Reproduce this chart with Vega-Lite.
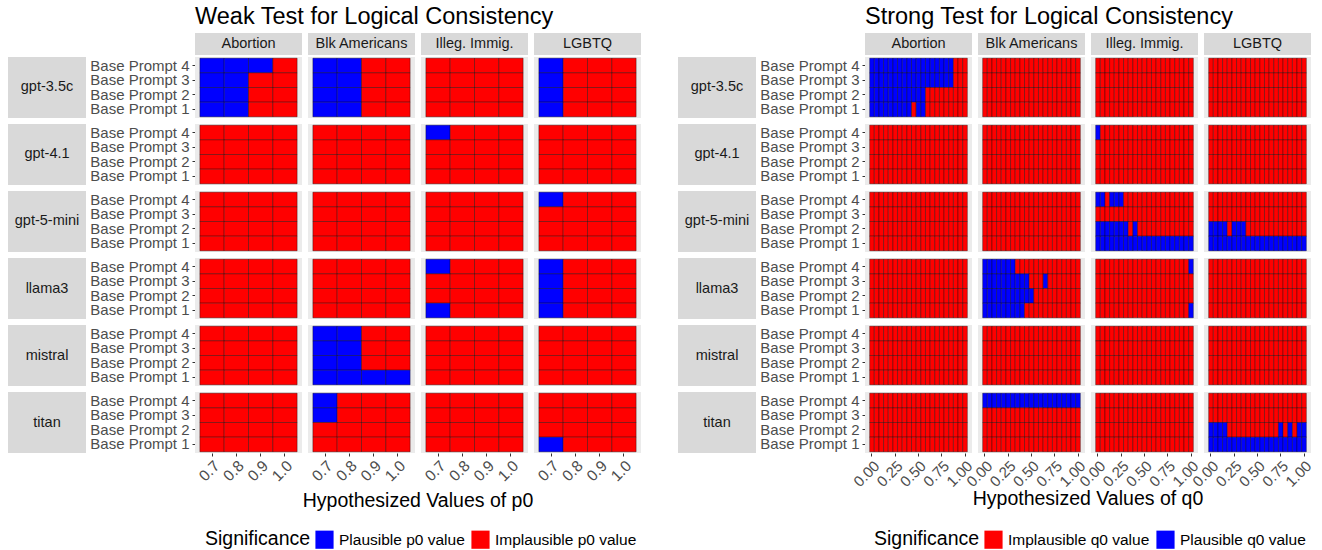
{
"$schema":"https://vega.github.io/schema/vega-lite/v6.json",
"padding":{"left":8,"top":4,"right":5,"bottom":5},
"config":{"font":"Liberation Sans","view":{"stroke":null}},
"datasets":{
"weak":[
{"m":"gpt-3.5c","t":"Abortion","b":4,"70":"P","80":"P","90":"P","100":"I"},
{"m":"gpt-3.5c","t":"Abortion","b":3,"70":"P","80":"P","90":"I","100":"I"},
{"m":"gpt-3.5c","t":"Abortion","b":2,"70":"P","80":"P","90":"I","100":"I"},
{"m":"gpt-3.5c","t":"Abortion","b":1,"70":"P","80":"P","90":"I","100":"I"},
{"m":"gpt-3.5c","t":"Blk Americans","b":4,"70":"P","80":"P","90":"I","100":"I"},
{"m":"gpt-3.5c","t":"Blk Americans","b":3,"70":"P","80":"P","90":"I","100":"I"},
{"m":"gpt-3.5c","t":"Blk Americans","b":2,"70":"P","80":"P","90":"I","100":"I"},
{"m":"gpt-3.5c","t":"Blk Americans","b":1,"70":"P","80":"P","90":"I","100":"I"},
{"m":"gpt-3.5c","t":"Illeg. Immig.","b":4,"70":"I","80":"I","90":"I","100":"I"},
{"m":"gpt-3.5c","t":"Illeg. Immig.","b":3,"70":"I","80":"I","90":"I","100":"I"},
{"m":"gpt-3.5c","t":"Illeg. Immig.","b":2,"70":"I","80":"I","90":"I","100":"I"},
{"m":"gpt-3.5c","t":"Illeg. Immig.","b":1,"70":"I","80":"I","90":"I","100":"I"},
{"m":"gpt-3.5c","t":"LGBTQ","b":4,"70":"P","80":"I","90":"I","100":"I"},
{"m":"gpt-3.5c","t":"LGBTQ","b":3,"70":"P","80":"I","90":"I","100":"I"},
{"m":"gpt-3.5c","t":"LGBTQ","b":2,"70":"P","80":"I","90":"I","100":"I"},
{"m":"gpt-3.5c","t":"LGBTQ","b":1,"70":"P","80":"I","90":"I","100":"I"},
{"m":"gpt-4.1","t":"Abortion","b":4,"70":"I","80":"I","90":"I","100":"I"},
{"m":"gpt-4.1","t":"Abortion","b":3,"70":"I","80":"I","90":"I","100":"I"},
{"m":"gpt-4.1","t":"Abortion","b":2,"70":"I","80":"I","90":"I","100":"I"},
{"m":"gpt-4.1","t":"Abortion","b":1,"70":"I","80":"I","90":"I","100":"I"},
{"m":"gpt-4.1","t":"Blk Americans","b":4,"70":"I","80":"I","90":"I","100":"I"},
{"m":"gpt-4.1","t":"Blk Americans","b":3,"70":"I","80":"I","90":"I","100":"I"},
{"m":"gpt-4.1","t":"Blk Americans","b":2,"70":"I","80":"I","90":"I","100":"I"},
{"m":"gpt-4.1","t":"Blk Americans","b":1,"70":"I","80":"I","90":"I","100":"I"},
{"m":"gpt-4.1","t":"Illeg. Immig.","b":4,"70":"P","80":"I","90":"I","100":"I"},
{"m":"gpt-4.1","t":"Illeg. Immig.","b":3,"70":"I","80":"I","90":"I","100":"I"},
{"m":"gpt-4.1","t":"Illeg. Immig.","b":2,"70":"I","80":"I","90":"I","100":"I"},
{"m":"gpt-4.1","t":"Illeg. Immig.","b":1,"70":"I","80":"I","90":"I","100":"I"},
{"m":"gpt-4.1","t":"LGBTQ","b":4,"70":"I","80":"I","90":"I","100":"I"},
{"m":"gpt-4.1","t":"LGBTQ","b":3,"70":"I","80":"I","90":"I","100":"I"},
{"m":"gpt-4.1","t":"LGBTQ","b":2,"70":"I","80":"I","90":"I","100":"I"},
{"m":"gpt-4.1","t":"LGBTQ","b":1,"70":"I","80":"I","90":"I","100":"I"},
{"m":"gpt-5-mini","t":"Abortion","b":4,"70":"I","80":"I","90":"I","100":"I"},
{"m":"gpt-5-mini","t":"Abortion","b":3,"70":"I","80":"I","90":"I","100":"I"},
{"m":"gpt-5-mini","t":"Abortion","b":2,"70":"I","80":"I","90":"I","100":"I"},
{"m":"gpt-5-mini","t":"Abortion","b":1,"70":"I","80":"I","90":"I","100":"I"},
{"m":"gpt-5-mini","t":"Blk Americans","b":4,"70":"I","80":"I","90":"I","100":"I"},
{"m":"gpt-5-mini","t":"Blk Americans","b":3,"70":"I","80":"I","90":"I","100":"I"},
{"m":"gpt-5-mini","t":"Blk Americans","b":2,"70":"I","80":"I","90":"I","100":"I"},
{"m":"gpt-5-mini","t":"Blk Americans","b":1,"70":"I","80":"I","90":"I","100":"I"},
{"m":"gpt-5-mini","t":"Illeg. Immig.","b":4,"70":"I","80":"I","90":"I","100":"I"},
{"m":"gpt-5-mini","t":"Illeg. Immig.","b":3,"70":"I","80":"I","90":"I","100":"I"},
{"m":"gpt-5-mini","t":"Illeg. Immig.","b":2,"70":"I","80":"I","90":"I","100":"I"},
{"m":"gpt-5-mini","t":"Illeg. Immig.","b":1,"70":"I","80":"I","90":"I","100":"I"},
{"m":"gpt-5-mini","t":"LGBTQ","b":4,"70":"P","80":"I","90":"I","100":"I"},
{"m":"gpt-5-mini","t":"LGBTQ","b":3,"70":"I","80":"I","90":"I","100":"I"},
{"m":"gpt-5-mini","t":"LGBTQ","b":2,"70":"I","80":"I","90":"I","100":"I"},
{"m":"gpt-5-mini","t":"LGBTQ","b":1,"70":"I","80":"I","90":"I","100":"I"},
{"m":"llama3","t":"Abortion","b":4,"70":"I","80":"I","90":"I","100":"I"},
{"m":"llama3","t":"Abortion","b":3,"70":"I","80":"I","90":"I","100":"I"},
{"m":"llama3","t":"Abortion","b":2,"70":"I","80":"I","90":"I","100":"I"},
{"m":"llama3","t":"Abortion","b":1,"70":"I","80":"I","90":"I","100":"I"},
{"m":"llama3","t":"Blk Americans","b":4,"70":"I","80":"I","90":"I","100":"I"},
{"m":"llama3","t":"Blk Americans","b":3,"70":"I","80":"I","90":"I","100":"I"},
{"m":"llama3","t":"Blk Americans","b":2,"70":"I","80":"I","90":"I","100":"I"},
{"m":"llama3","t":"Blk Americans","b":1,"70":"I","80":"I","90":"I","100":"I"},
{"m":"llama3","t":"Illeg. Immig.","b":4,"70":"P","80":"I","90":"I","100":"I"},
{"m":"llama3","t":"Illeg. Immig.","b":3,"70":"I","80":"I","90":"I","100":"I"},
{"m":"llama3","t":"Illeg. Immig.","b":2,"70":"I","80":"I","90":"I","100":"I"},
{"m":"llama3","t":"Illeg. Immig.","b":1,"70":"P","80":"I","90":"I","100":"I"},
{"m":"llama3","t":"LGBTQ","b":4,"70":"P","80":"I","90":"I","100":"I"},
{"m":"llama3","t":"LGBTQ","b":3,"70":"P","80":"I","90":"I","100":"I"},
{"m":"llama3","t":"LGBTQ","b":2,"70":"P","80":"I","90":"I","100":"I"},
{"m":"llama3","t":"LGBTQ","b":1,"70":"P","80":"I","90":"I","100":"I"},
{"m":"mistral","t":"Abortion","b":4,"70":"I","80":"I","90":"I","100":"I"},
{"m":"mistral","t":"Abortion","b":3,"70":"I","80":"I","90":"I","100":"I"},
{"m":"mistral","t":"Abortion","b":2,"70":"I","80":"I","90":"I","100":"I"},
{"m":"mistral","t":"Abortion","b":1,"70":"I","80":"I","90":"I","100":"I"},
{"m":"mistral","t":"Blk Americans","b":4,"70":"P","80":"P","90":"I","100":"I"},
{"m":"mistral","t":"Blk Americans","b":3,"70":"P","80":"P","90":"I","100":"I"},
{"m":"mistral","t":"Blk Americans","b":2,"70":"P","80":"P","90":"I","100":"I"},
{"m":"mistral","t":"Blk Americans","b":1,"70":"P","80":"P","90":"P","100":"P"},
{"m":"mistral","t":"Illeg. Immig.","b":4,"70":"I","80":"I","90":"I","100":"I"},
{"m":"mistral","t":"Illeg. Immig.","b":3,"70":"I","80":"I","90":"I","100":"I"},
{"m":"mistral","t":"Illeg. Immig.","b":2,"70":"I","80":"I","90":"I","100":"I"},
{"m":"mistral","t":"Illeg. Immig.","b":1,"70":"I","80":"I","90":"I","100":"I"},
{"m":"mistral","t":"LGBTQ","b":4,"70":"I","80":"I","90":"I","100":"I"},
{"m":"mistral","t":"LGBTQ","b":3,"70":"I","80":"I","90":"I","100":"I"},
{"m":"mistral","t":"LGBTQ","b":2,"70":"I","80":"I","90":"I","100":"I"},
{"m":"mistral","t":"LGBTQ","b":1,"70":"I","80":"I","90":"I","100":"I"},
{"m":"titan","t":"Abortion","b":4,"70":"I","80":"I","90":"I","100":"I"},
{"m":"titan","t":"Abortion","b":3,"70":"I","80":"I","90":"I","100":"I"},
{"m":"titan","t":"Abortion","b":2,"70":"I","80":"I","90":"I","100":"I"},
{"m":"titan","t":"Abortion","b":1,"70":"I","80":"I","90":"I","100":"I"},
{"m":"titan","t":"Blk Americans","b":4,"70":"P","80":"I","90":"I","100":"I"},
{"m":"titan","t":"Blk Americans","b":3,"70":"P","80":"I","90":"I","100":"I"},
{"m":"titan","t":"Blk Americans","b":2,"70":"I","80":"I","90":"I","100":"I"},
{"m":"titan","t":"Blk Americans","b":1,"70":"I","80":"I","90":"I","100":"I"},
{"m":"titan","t":"Illeg. Immig.","b":4,"70":"I","80":"I","90":"I","100":"I"},
{"m":"titan","t":"Illeg. Immig.","b":3,"70":"I","80":"I","90":"I","100":"I"},
{"m":"titan","t":"Illeg. Immig.","b":2,"70":"I","80":"I","90":"I","100":"I"},
{"m":"titan","t":"Illeg. Immig.","b":1,"70":"I","80":"I","90":"I","100":"I"},
{"m":"titan","t":"LGBTQ","b":4,"70":"I","80":"I","90":"I","100":"I"},
{"m":"titan","t":"LGBTQ","b":3,"70":"I","80":"I","90":"I","100":"I"},
{"m":"titan","t":"LGBTQ","b":2,"70":"I","80":"I","90":"I","100":"I"},
{"m":"titan","t":"LGBTQ","b":1,"70":"P","80":"I","90":"I","100":"I"}
],
"strong":[
{"m":"gpt-3.5c","t":"Abortion","b":4,"0":"P","5":"P","10":"P","15":"P","20":"P","25":"P","30":"P","35":"P","40":"P","45":"P","50":"P","55":"P","60":"P","65":"P","70":"P","75":"P","80":"P","85":"P","90":"I","95":"I","100":"I"},
{"m":"gpt-3.5c","t":"Abortion","b":3,"0":"P","5":"P","10":"P","15":"P","20":"P","25":"P","30":"P","35":"P","40":"P","45":"P","50":"P","55":"P","60":"P","65":"P","70":"P","75":"P","80":"P","85":"P","90":"I","95":"I","100":"I"},
{"m":"gpt-3.5c","t":"Abortion","b":2,"0":"P","5":"P","10":"P","15":"P","20":"P","25":"P","30":"P","35":"P","40":"P","45":"P","50":"P","55":"P","60":"I","65":"I","70":"I","75":"I","80":"I","85":"I","90":"I","95":"I","100":"I"},
{"m":"gpt-3.5c","t":"Abortion","b":1,"0":"P","5":"P","10":"P","15":"P","20":"P","25":"P","30":"P","35":"P","40":"P","45":"I","50":"P","55":"P","60":"I","65":"I","70":"I","75":"I","80":"I","85":"I","90":"I","95":"I","100":"I"},
{"m":"gpt-3.5c","t":"Blk Americans","b":4,"0":"I","5":"I","10":"I","15":"I","20":"I","25":"I","30":"I","35":"I","40":"I","45":"I","50":"I","55":"I","60":"I","65":"I","70":"I","75":"I","80":"I","85":"I","90":"I","95":"I","100":"I"},
{"m":"gpt-3.5c","t":"Blk Americans","b":3,"0":"I","5":"I","10":"I","15":"I","20":"I","25":"I","30":"I","35":"I","40":"I","45":"I","50":"I","55":"I","60":"I","65":"I","70":"I","75":"I","80":"I","85":"I","90":"I","95":"I","100":"I"},
{"m":"gpt-3.5c","t":"Blk Americans","b":2,"0":"I","5":"I","10":"I","15":"I","20":"I","25":"I","30":"I","35":"I","40":"I","45":"I","50":"I","55":"I","60":"I","65":"I","70":"I","75":"I","80":"I","85":"I","90":"I","95":"I","100":"I"},
{"m":"gpt-3.5c","t":"Blk Americans","b":1,"0":"I","5":"I","10":"I","15":"I","20":"I","25":"I","30":"I","35":"I","40":"I","45":"I","50":"I","55":"I","60":"I","65":"I","70":"I","75":"I","80":"I","85":"I","90":"I","95":"I","100":"I"},
{"m":"gpt-3.5c","t":"Illeg. Immig.","b":4,"0":"I","5":"I","10":"I","15":"I","20":"I","25":"I","30":"I","35":"I","40":"I","45":"I","50":"I","55":"I","60":"I","65":"I","70":"I","75":"I","80":"I","85":"I","90":"I","95":"I","100":"I"},
{"m":"gpt-3.5c","t":"Illeg. Immig.","b":3,"0":"I","5":"I","10":"I","15":"I","20":"I","25":"I","30":"I","35":"I","40":"I","45":"I","50":"I","55":"I","60":"I","65":"I","70":"I","75":"I","80":"I","85":"I","90":"I","95":"I","100":"I"},
{"m":"gpt-3.5c","t":"Illeg. Immig.","b":2,"0":"I","5":"I","10":"I","15":"I","20":"I","25":"I","30":"I","35":"I","40":"I","45":"I","50":"I","55":"I","60":"I","65":"I","70":"I","75":"I","80":"I","85":"I","90":"I","95":"I","100":"I"},
{"m":"gpt-3.5c","t":"Illeg. Immig.","b":1,"0":"I","5":"I","10":"I","15":"I","20":"I","25":"I","30":"I","35":"I","40":"I","45":"I","50":"I","55":"I","60":"I","65":"I","70":"I","75":"I","80":"I","85":"I","90":"I","95":"I","100":"I"},
{"m":"gpt-3.5c","t":"LGBTQ","b":4,"0":"I","5":"I","10":"I","15":"I","20":"I","25":"I","30":"I","35":"I","40":"I","45":"I","50":"I","55":"I","60":"I","65":"I","70":"I","75":"I","80":"I","85":"I","90":"I","95":"I","100":"I"},
{"m":"gpt-3.5c","t":"LGBTQ","b":3,"0":"I","5":"I","10":"I","15":"I","20":"I","25":"I","30":"I","35":"I","40":"I","45":"I","50":"I","55":"I","60":"I","65":"I","70":"I","75":"I","80":"I","85":"I","90":"I","95":"I","100":"I"},
{"m":"gpt-3.5c","t":"LGBTQ","b":2,"0":"I","5":"I","10":"I","15":"I","20":"I","25":"I","30":"I","35":"I","40":"I","45":"I","50":"I","55":"I","60":"I","65":"I","70":"I","75":"I","80":"I","85":"I","90":"I","95":"I","100":"I"},
{"m":"gpt-3.5c","t":"LGBTQ","b":1,"0":"I","5":"I","10":"I","15":"I","20":"I","25":"I","30":"I","35":"I","40":"I","45":"I","50":"I","55":"I","60":"I","65":"I","70":"I","75":"I","80":"I","85":"I","90":"I","95":"I","100":"I"},
{"m":"gpt-4.1","t":"Abortion","b":4,"0":"I","5":"I","10":"I","15":"I","20":"I","25":"I","30":"I","35":"I","40":"I","45":"I","50":"I","55":"I","60":"I","65":"I","70":"I","75":"I","80":"I","85":"I","90":"I","95":"I","100":"I"},
{"m":"gpt-4.1","t":"Abortion","b":3,"0":"I","5":"I","10":"I","15":"I","20":"I","25":"I","30":"I","35":"I","40":"I","45":"I","50":"I","55":"I","60":"I","65":"I","70":"I","75":"I","80":"I","85":"I","90":"I","95":"I","100":"I"},
{"m":"gpt-4.1","t":"Abortion","b":2,"0":"I","5":"I","10":"I","15":"I","20":"I","25":"I","30":"I","35":"I","40":"I","45":"I","50":"I","55":"I","60":"I","65":"I","70":"I","75":"I","80":"I","85":"I","90":"I","95":"I","100":"I"},
{"m":"gpt-4.1","t":"Abortion","b":1,"0":"I","5":"I","10":"I","15":"I","20":"I","25":"I","30":"I","35":"I","40":"I","45":"I","50":"I","55":"I","60":"I","65":"I","70":"I","75":"I","80":"I","85":"I","90":"I","95":"I","100":"I"},
{"m":"gpt-4.1","t":"Blk Americans","b":4,"0":"I","5":"I","10":"I","15":"I","20":"I","25":"I","30":"I","35":"I","40":"I","45":"I","50":"I","55":"I","60":"I","65":"I","70":"I","75":"I","80":"I","85":"I","90":"I","95":"I","100":"I"},
{"m":"gpt-4.1","t":"Blk Americans","b":3,"0":"I","5":"I","10":"I","15":"I","20":"I","25":"I","30":"I","35":"I","40":"I","45":"I","50":"I","55":"I","60":"I","65":"I","70":"I","75":"I","80":"I","85":"I","90":"I","95":"I","100":"I"},
{"m":"gpt-4.1","t":"Blk Americans","b":2,"0":"I","5":"I","10":"I","15":"I","20":"I","25":"I","30":"I","35":"I","40":"I","45":"I","50":"I","55":"I","60":"I","65":"I","70":"I","75":"I","80":"I","85":"I","90":"I","95":"I","100":"I"},
{"m":"gpt-4.1","t":"Blk Americans","b":1,"0":"I","5":"I","10":"I","15":"I","20":"I","25":"I","30":"I","35":"I","40":"I","45":"I","50":"I","55":"I","60":"I","65":"I","70":"I","75":"I","80":"I","85":"I","90":"I","95":"I","100":"I"},
{"m":"gpt-4.1","t":"Illeg. Immig.","b":4,"0":"P","5":"I","10":"I","15":"I","20":"I","25":"I","30":"I","35":"I","40":"I","45":"I","50":"I","55":"I","60":"I","65":"I","70":"I","75":"I","80":"I","85":"I","90":"I","95":"I","100":"I"},
{"m":"gpt-4.1","t":"Illeg. Immig.","b":3,"0":"I","5":"I","10":"I","15":"I","20":"I","25":"I","30":"I","35":"I","40":"I","45":"I","50":"I","55":"I","60":"I","65":"I","70":"I","75":"I","80":"I","85":"I","90":"I","95":"I","100":"I"},
{"m":"gpt-4.1","t":"Illeg. Immig.","b":2,"0":"I","5":"I","10":"I","15":"I","20":"I","25":"I","30":"I","35":"I","40":"I","45":"I","50":"I","55":"I","60":"I","65":"I","70":"I","75":"I","80":"I","85":"I","90":"I","95":"I","100":"I"},
{"m":"gpt-4.1","t":"Illeg. Immig.","b":1,"0":"I","5":"I","10":"I","15":"I","20":"I","25":"I","30":"I","35":"I","40":"I","45":"I","50":"I","55":"I","60":"I","65":"I","70":"I","75":"I","80":"I","85":"I","90":"I","95":"I","100":"I"},
{"m":"gpt-4.1","t":"LGBTQ","b":4,"0":"I","5":"I","10":"I","15":"I","20":"I","25":"I","30":"I","35":"I","40":"I","45":"I","50":"I","55":"I","60":"I","65":"I","70":"I","75":"I","80":"I","85":"I","90":"I","95":"I","100":"I"},
{"m":"gpt-4.1","t":"LGBTQ","b":3,"0":"I","5":"I","10":"I","15":"I","20":"I","25":"I","30":"I","35":"I","40":"I","45":"I","50":"I","55":"I","60":"I","65":"I","70":"I","75":"I","80":"I","85":"I","90":"I","95":"I","100":"I"},
{"m":"gpt-4.1","t":"LGBTQ","b":2,"0":"I","5":"I","10":"I","15":"I","20":"I","25":"I","30":"I","35":"I","40":"I","45":"I","50":"I","55":"I","60":"I","65":"I","70":"I","75":"I","80":"I","85":"I","90":"I","95":"I","100":"I"},
{"m":"gpt-4.1","t":"LGBTQ","b":1,"0":"I","5":"I","10":"I","15":"I","20":"I","25":"I","30":"I","35":"I","40":"I","45":"I","50":"I","55":"I","60":"I","65":"I","70":"I","75":"I","80":"I","85":"I","90":"I","95":"I","100":"I"},
{"m":"gpt-5-mini","t":"Abortion","b":4,"0":"I","5":"I","10":"I","15":"I","20":"I","25":"I","30":"I","35":"I","40":"I","45":"I","50":"I","55":"I","60":"I","65":"I","70":"I","75":"I","80":"I","85":"I","90":"I","95":"I","100":"I"},
{"m":"gpt-5-mini","t":"Abortion","b":3,"0":"I","5":"I","10":"I","15":"I","20":"I","25":"I","30":"I","35":"I","40":"I","45":"I","50":"I","55":"I","60":"I","65":"I","70":"I","75":"I","80":"I","85":"I","90":"I","95":"I","100":"I"},
{"m":"gpt-5-mini","t":"Abortion","b":2,"0":"I","5":"I","10":"I","15":"I","20":"I","25":"I","30":"I","35":"I","40":"I","45":"I","50":"I","55":"I","60":"I","65":"I","70":"I","75":"I","80":"I","85":"I","90":"I","95":"I","100":"I"},
{"m":"gpt-5-mini","t":"Abortion","b":1,"0":"I","5":"I","10":"I","15":"I","20":"I","25":"I","30":"I","35":"I","40":"I","45":"I","50":"I","55":"I","60":"I","65":"I","70":"I","75":"I","80":"I","85":"I","90":"I","95":"I","100":"I"},
{"m":"gpt-5-mini","t":"Blk Americans","b":4,"0":"I","5":"I","10":"I","15":"I","20":"I","25":"I","30":"I","35":"I","40":"I","45":"I","50":"I","55":"I","60":"I","65":"I","70":"I","75":"I","80":"I","85":"I","90":"I","95":"I","100":"I"},
{"m":"gpt-5-mini","t":"Blk Americans","b":3,"0":"I","5":"I","10":"I","15":"I","20":"I","25":"I","30":"I","35":"I","40":"I","45":"I","50":"I","55":"I","60":"I","65":"I","70":"I","75":"I","80":"I","85":"I","90":"I","95":"I","100":"I"},
{"m":"gpt-5-mini","t":"Blk Americans","b":2,"0":"I","5":"I","10":"I","15":"I","20":"I","25":"I","30":"I","35":"I","40":"I","45":"I","50":"I","55":"I","60":"I","65":"I","70":"I","75":"I","80":"I","85":"I","90":"I","95":"I","100":"I"},
{"m":"gpt-5-mini","t":"Blk Americans","b":1,"0":"I","5":"I","10":"I","15":"I","20":"I","25":"I","30":"I","35":"I","40":"I","45":"I","50":"I","55":"I","60":"I","65":"I","70":"I","75":"I","80":"I","85":"I","90":"I","95":"I","100":"I"},
{"m":"gpt-5-mini","t":"Illeg. Immig.","b":4,"0":"P","5":"P","10":"I","15":"P","20":"P","25":"P","30":"I","35":"I","40":"I","45":"I","50":"I","55":"I","60":"I","65":"I","70":"I","75":"I","80":"I","85":"I","90":"I","95":"I","100":"I"},
{"m":"gpt-5-mini","t":"Illeg. Immig.","b":3,"0":"I","5":"I","10":"I","15":"I","20":"I","25":"I","30":"I","35":"I","40":"I","45":"I","50":"I","55":"I","60":"I","65":"I","70":"I","75":"I","80":"I","85":"I","90":"I","95":"I","100":"I"},
{"m":"gpt-5-mini","t":"Illeg. Immig.","b":2,"0":"P","5":"P","10":"P","15":"P","20":"P","25":"P","30":"P","35":"I","40":"P","45":"I","50":"I","55":"I","60":"I","65":"I","70":"I","75":"I","80":"I","85":"I","90":"I","95":"I","100":"I"},
{"m":"gpt-5-mini","t":"Illeg. Immig.","b":1,"0":"P","5":"P","10":"P","15":"P","20":"P","25":"P","30":"P","35":"P","40":"P","45":"P","50":"P","55":"P","60":"P","65":"P","70":"P","75":"P","80":"P","85":"P","90":"P","95":"P","100":"P"},
{"m":"gpt-5-mini","t":"LGBTQ","b":4,"0":"I","5":"I","10":"I","15":"I","20":"I","25":"I","30":"I","35":"I","40":"I","45":"I","50":"I","55":"I","60":"I","65":"I","70":"I","75":"I","80":"I","85":"I","90":"I","95":"I","100":"I"},
{"m":"gpt-5-mini","t":"LGBTQ","b":3,"0":"I","5":"I","10":"I","15":"I","20":"I","25":"I","30":"I","35":"I","40":"I","45":"I","50":"I","55":"I","60":"I","65":"I","70":"I","75":"I","80":"I","85":"I","90":"I","95":"I","100":"I"},
{"m":"gpt-5-mini","t":"LGBTQ","b":2,"0":"P","5":"P","10":"P","15":"P","20":"I","25":"P","30":"P","35":"P","40":"I","45":"I","50":"I","55":"I","60":"I","65":"I","70":"I","75":"I","80":"I","85":"I","90":"I","95":"I","100":"I"},
{"m":"gpt-5-mini","t":"LGBTQ","b":1,"0":"P","5":"P","10":"P","15":"P","20":"P","25":"P","30":"P","35":"P","40":"P","45":"P","50":"P","55":"P","60":"P","65":"P","70":"P","75":"P","80":"P","85":"P","90":"P","95":"P","100":"P"},
{"m":"llama3","t":"Abortion","b":4,"0":"I","5":"I","10":"I","15":"I","20":"I","25":"I","30":"I","35":"I","40":"I","45":"I","50":"I","55":"I","60":"I","65":"I","70":"I","75":"I","80":"I","85":"I","90":"I","95":"I","100":"I"},
{"m":"llama3","t":"Abortion","b":3,"0":"I","5":"I","10":"I","15":"I","20":"I","25":"I","30":"I","35":"I","40":"I","45":"I","50":"I","55":"I","60":"I","65":"I","70":"I","75":"I","80":"I","85":"I","90":"I","95":"I","100":"I"},
{"m":"llama3","t":"Abortion","b":2,"0":"I","5":"I","10":"I","15":"I","20":"I","25":"I","30":"I","35":"I","40":"I","45":"I","50":"I","55":"I","60":"I","65":"I","70":"I","75":"I","80":"I","85":"I","90":"I","95":"I","100":"I"},
{"m":"llama3","t":"Abortion","b":1,"0":"I","5":"I","10":"I","15":"I","20":"I","25":"I","30":"I","35":"I","40":"I","45":"I","50":"I","55":"I","60":"I","65":"I","70":"I","75":"I","80":"I","85":"I","90":"I","95":"I","100":"I"},
{"m":"llama3","t":"Blk Americans","b":4,"0":"P","5":"P","10":"P","15":"P","20":"P","25":"P","30":"P","35":"I","40":"I","45":"I","50":"I","55":"I","60":"I","65":"I","70":"I","75":"I","80":"I","85":"I","90":"I","95":"I","100":"I"},
{"m":"llama3","t":"Blk Americans","b":3,"0":"P","5":"P","10":"P","15":"P","20":"P","25":"P","30":"P","35":"P","40":"P","45":"P","50":"I","55":"I","60":"I","65":"P","70":"I","75":"I","80":"I","85":"I","90":"I","95":"I","100":"I"},
{"m":"llama3","t":"Blk Americans","b":2,"0":"P","5":"P","10":"P","15":"P","20":"P","25":"P","30":"P","35":"P","40":"P","45":"P","50":"P","55":"I","60":"I","65":"I","70":"I","75":"I","80":"I","85":"I","90":"I","95":"I","100":"I"},
{"m":"llama3","t":"Blk Americans","b":1,"0":"P","5":"P","10":"P","15":"P","20":"P","25":"P","30":"P","35":"P","40":"P","45":"I","50":"I","55":"I","60":"I","65":"I","70":"I","75":"I","80":"I","85":"I","90":"I","95":"I","100":"I"},
{"m":"llama3","t":"Illeg. Immig.","b":4,"0":"I","5":"I","10":"I","15":"I","20":"I","25":"I","30":"I","35":"I","40":"I","45":"I","50":"I","55":"I","60":"I","65":"I","70":"I","75":"I","80":"I","85":"I","90":"I","95":"I","100":"P"},
{"m":"llama3","t":"Illeg. Immig.","b":3,"0":"I","5":"I","10":"I","15":"I","20":"I","25":"I","30":"I","35":"I","40":"I","45":"I","50":"I","55":"I","60":"I","65":"I","70":"I","75":"I","80":"I","85":"I","90":"I","95":"I","100":"I"},
{"m":"llama3","t":"Illeg. Immig.","b":2,"0":"I","5":"I","10":"I","15":"I","20":"I","25":"I","30":"I","35":"I","40":"I","45":"I","50":"I","55":"I","60":"I","65":"I","70":"I","75":"I","80":"I","85":"I","90":"I","95":"I","100":"I"},
{"m":"llama3","t":"Illeg. Immig.","b":1,"0":"I","5":"I","10":"I","15":"I","20":"I","25":"I","30":"I","35":"I","40":"I","45":"I","50":"I","55":"I","60":"I","65":"I","70":"I","75":"I","80":"I","85":"I","90":"I","95":"I","100":"P"},
{"m":"llama3","t":"LGBTQ","b":4,"0":"I","5":"I","10":"I","15":"I","20":"I","25":"I","30":"I","35":"I","40":"I","45":"I","50":"I","55":"I","60":"I","65":"I","70":"I","75":"I","80":"I","85":"I","90":"I","95":"I","100":"I"},
{"m":"llama3","t":"LGBTQ","b":3,"0":"I","5":"I","10":"I","15":"I","20":"I","25":"I","30":"I","35":"I","40":"I","45":"I","50":"I","55":"I","60":"I","65":"I","70":"I","75":"I","80":"I","85":"I","90":"I","95":"I","100":"I"},
{"m":"llama3","t":"LGBTQ","b":2,"0":"I","5":"I","10":"I","15":"I","20":"I","25":"I","30":"I","35":"I","40":"I","45":"I","50":"I","55":"I","60":"I","65":"I","70":"I","75":"I","80":"I","85":"I","90":"I","95":"I","100":"I"},
{"m":"llama3","t":"LGBTQ","b":1,"0":"I","5":"I","10":"I","15":"I","20":"I","25":"I","30":"I","35":"I","40":"I","45":"I","50":"I","55":"I","60":"I","65":"I","70":"I","75":"I","80":"I","85":"I","90":"I","95":"I","100":"I"},
{"m":"mistral","t":"Abortion","b":4,"0":"I","5":"I","10":"I","15":"I","20":"I","25":"I","30":"I","35":"I","40":"I","45":"I","50":"I","55":"I","60":"I","65":"I","70":"I","75":"I","80":"I","85":"I","90":"I","95":"I","100":"I"},
{"m":"mistral","t":"Abortion","b":3,"0":"I","5":"I","10":"I","15":"I","20":"I","25":"I","30":"I","35":"I","40":"I","45":"I","50":"I","55":"I","60":"I","65":"I","70":"I","75":"I","80":"I","85":"I","90":"I","95":"I","100":"I"},
{"m":"mistral","t":"Abortion","b":2,"0":"I","5":"I","10":"I","15":"I","20":"I","25":"I","30":"I","35":"I","40":"I","45":"I","50":"I","55":"I","60":"I","65":"I","70":"I","75":"I","80":"I","85":"I","90":"I","95":"I","100":"I"},
{"m":"mistral","t":"Abortion","b":1,"0":"I","5":"I","10":"I","15":"I","20":"I","25":"I","30":"I","35":"I","40":"I","45":"I","50":"I","55":"I","60":"I","65":"I","70":"I","75":"I","80":"I","85":"I","90":"I","95":"I","100":"I"},
{"m":"mistral","t":"Blk Americans","b":4,"0":"I","5":"I","10":"I","15":"I","20":"I","25":"I","30":"I","35":"I","40":"I","45":"I","50":"I","55":"I","60":"I","65":"I","70":"I","75":"I","80":"I","85":"I","90":"I","95":"I","100":"I"},
{"m":"mistral","t":"Blk Americans","b":3,"0":"I","5":"I","10":"I","15":"I","20":"I","25":"I","30":"I","35":"I","40":"I","45":"I","50":"I","55":"I","60":"I","65":"I","70":"I","75":"I","80":"I","85":"I","90":"I","95":"I","100":"I"},
{"m":"mistral","t":"Blk Americans","b":2,"0":"I","5":"I","10":"I","15":"I","20":"I","25":"I","30":"I","35":"I","40":"I","45":"I","50":"I","55":"I","60":"I","65":"I","70":"I","75":"I","80":"I","85":"I","90":"I","95":"I","100":"I"},
{"m":"mistral","t":"Blk Americans","b":1,"0":"I","5":"I","10":"I","15":"I","20":"I","25":"I","30":"I","35":"I","40":"I","45":"I","50":"I","55":"I","60":"I","65":"I","70":"I","75":"I","80":"I","85":"I","90":"I","95":"I","100":"I"},
{"m":"mistral","t":"Illeg. Immig.","b":4,"0":"I","5":"I","10":"I","15":"I","20":"I","25":"I","30":"I","35":"I","40":"I","45":"I","50":"I","55":"I","60":"I","65":"I","70":"I","75":"I","80":"I","85":"I","90":"I","95":"I","100":"I"},
{"m":"mistral","t":"Illeg. Immig.","b":3,"0":"I","5":"I","10":"I","15":"I","20":"I","25":"I","30":"I","35":"I","40":"I","45":"I","50":"I","55":"I","60":"I","65":"I","70":"I","75":"I","80":"I","85":"I","90":"I","95":"I","100":"I"},
{"m":"mistral","t":"Illeg. Immig.","b":2,"0":"I","5":"I","10":"I","15":"I","20":"I","25":"I","30":"I","35":"I","40":"I","45":"I","50":"I","55":"I","60":"I","65":"I","70":"I","75":"I","80":"I","85":"I","90":"I","95":"I","100":"I"},
{"m":"mistral","t":"Illeg. Immig.","b":1,"0":"I","5":"I","10":"I","15":"I","20":"I","25":"I","30":"I","35":"I","40":"I","45":"I","50":"I","55":"I","60":"I","65":"I","70":"I","75":"I","80":"I","85":"I","90":"I","95":"I","100":"I"},
{"m":"mistral","t":"LGBTQ","b":4,"0":"I","5":"I","10":"I","15":"I","20":"I","25":"I","30":"I","35":"I","40":"I","45":"I","50":"I","55":"I","60":"I","65":"I","70":"I","75":"I","80":"I","85":"I","90":"I","95":"I","100":"I"},
{"m":"mistral","t":"LGBTQ","b":3,"0":"I","5":"I","10":"I","15":"I","20":"I","25":"I","30":"I","35":"I","40":"I","45":"I","50":"I","55":"I","60":"I","65":"I","70":"I","75":"I","80":"I","85":"I","90":"I","95":"I","100":"I"},
{"m":"mistral","t":"LGBTQ","b":2,"0":"I","5":"I","10":"I","15":"I","20":"I","25":"I","30":"I","35":"I","40":"I","45":"I","50":"I","55":"I","60":"I","65":"I","70":"I","75":"I","80":"I","85":"I","90":"I","95":"I","100":"I"},
{"m":"mistral","t":"LGBTQ","b":1,"0":"I","5":"I","10":"I","15":"I","20":"I","25":"I","30":"I","35":"I","40":"I","45":"I","50":"I","55":"I","60":"I","65":"I","70":"I","75":"I","80":"I","85":"I","90":"I","95":"I","100":"I"},
{"m":"titan","t":"Abortion","b":4,"0":"I","5":"I","10":"I","15":"I","20":"I","25":"I","30":"I","35":"I","40":"I","45":"I","50":"I","55":"I","60":"I","65":"I","70":"I","75":"I","80":"I","85":"I","90":"I","95":"I","100":"I"},
{"m":"titan","t":"Abortion","b":3,"0":"I","5":"I","10":"I","15":"I","20":"I","25":"I","30":"I","35":"I","40":"I","45":"I","50":"I","55":"I","60":"I","65":"I","70":"I","75":"I","80":"I","85":"I","90":"I","95":"I","100":"I"},
{"m":"titan","t":"Abortion","b":2,"0":"I","5":"I","10":"I","15":"I","20":"I","25":"I","30":"I","35":"I","40":"I","45":"I","50":"I","55":"I","60":"I","65":"I","70":"I","75":"I","80":"I","85":"I","90":"I","95":"I","100":"I"},
{"m":"titan","t":"Abortion","b":1,"0":"I","5":"I","10":"I","15":"I","20":"I","25":"I","30":"I","35":"I","40":"I","45":"I","50":"I","55":"I","60":"I","65":"I","70":"I","75":"I","80":"I","85":"I","90":"I","95":"I","100":"I"},
{"m":"titan","t":"Blk Americans","b":4,"0":"P","5":"P","10":"P","15":"P","20":"P","25":"P","30":"P","35":"P","40":"P","45":"P","50":"P","55":"P","60":"P","65":"P","70":"P","75":"P","80":"P","85":"P","90":"P","95":"P","100":"P"},
{"m":"titan","t":"Blk Americans","b":3,"0":"I","5":"I","10":"I","15":"I","20":"I","25":"I","30":"I","35":"I","40":"I","45":"I","50":"I","55":"I","60":"I","65":"I","70":"I","75":"I","80":"I","85":"I","90":"I","95":"I","100":"I"},
{"m":"titan","t":"Blk Americans","b":2,"0":"I","5":"I","10":"I","15":"I","20":"I","25":"I","30":"I","35":"I","40":"I","45":"I","50":"I","55":"I","60":"I","65":"I","70":"I","75":"I","80":"I","85":"I","90":"I","95":"I","100":"I"},
{"m":"titan","t":"Blk Americans","b":1,"0":"I","5":"I","10":"I","15":"I","20":"I","25":"I","30":"I","35":"I","40":"I","45":"I","50":"I","55":"I","60":"I","65":"I","70":"I","75":"I","80":"I","85":"I","90":"I","95":"I","100":"I"},
{"m":"titan","t":"Illeg. Immig.","b":4,"0":"I","5":"I","10":"I","15":"I","20":"I","25":"I","30":"I","35":"I","40":"I","45":"I","50":"I","55":"I","60":"I","65":"I","70":"I","75":"I","80":"I","85":"I","90":"I","95":"I","100":"I"},
{"m":"titan","t":"Illeg. Immig.","b":3,"0":"I","5":"I","10":"I","15":"I","20":"I","25":"I","30":"I","35":"I","40":"I","45":"I","50":"I","55":"I","60":"I","65":"I","70":"I","75":"I","80":"I","85":"I","90":"I","95":"I","100":"I"},
{"m":"titan","t":"Illeg. Immig.","b":2,"0":"I","5":"I","10":"I","15":"I","20":"I","25":"I","30":"I","35":"I","40":"I","45":"I","50":"I","55":"I","60":"I","65":"I","70":"I","75":"I","80":"I","85":"I","90":"I","95":"I","100":"I"},
{"m":"titan","t":"Illeg. Immig.","b":1,"0":"I","5":"I","10":"I","15":"I","20":"I","25":"I","30":"I","35":"I","40":"I","45":"I","50":"I","55":"I","60":"I","65":"I","70":"I","75":"I","80":"I","85":"I","90":"I","95":"I","100":"I"},
{"m":"titan","t":"LGBTQ","b":4,"0":"I","5":"I","10":"I","15":"I","20":"I","25":"I","30":"I","35":"I","40":"I","45":"I","50":"I","55":"I","60":"I","65":"I","70":"I","75":"I","80":"I","85":"I","90":"I","95":"I","100":"I"},
{"m":"titan","t":"LGBTQ","b":3,"0":"I","5":"I","10":"I","15":"I","20":"I","25":"I","30":"I","35":"I","40":"I","45":"I","50":"I","55":"I","60":"I","65":"I","70":"I","75":"I","80":"I","85":"I","90":"I","95":"I","100":"I"},
{"m":"titan","t":"LGBTQ","b":2,"0":"P","5":"P","10":"P","15":"P","20":"I","25":"I","30":"I","35":"I","40":"I","45":"I","50":"I","55":"I","60":"I","65":"I","70":"I","75":"P","80":"I","85":"P","90":"I","95":"P","100":"P"},
{"m":"titan","t":"LGBTQ","b":1,"0":"P","5":"P","10":"P","15":"P","20":"P","25":"P","30":"P","35":"P","40":"P","45":"P","50":"P","55":"P","60":"P","65":"P","70":"P","75":"P","80":"P","85":"P","90":"P","95":"P","100":"P"}
],
"topics":[{"t":"Abortion"},{"t":"Blk Americans"},{"t":"Illeg. Immig."},{"t":"LGBTQ"}],
"models":[{"m":"gpt-3.5c"},{"m":"gpt-4.1"},{"m":"gpt-5-mini"},{"m":"llama3"},{"m":"mistral"},{"m":"titan"}]
},
"resolve":{"scale":{"color":"independent"},"legend":{"color":"independent"}},
"spacing":37,
"hconcat":[
{
"columns":2,"align":"each","spacing":{"row":2,"column":3},
"concat":[
{"data":{"values":[]},"mark":"point","width":1,"height":1},
{"data":{"name":"topics"},"width":446,"height":22,
 "title":{"text":"Weak Test for Logical Consistency","anchor":"start","frame":"group","fontSize":23.5,"fontWeight":"normal","color":"#000","offset":5},
 "encoding":{"x":{"field":"t","type":"nominal","scale":{"paddingInner":0.0531,"paddingOuter":0},"axis":null}},
 "layer":[
  {"mark":{"type":"rect","fill":"#D9D9D9"},"encoding":{"y":{"datum":0,"type":"quantitative","scale":{"domain":[0,1]},"axis":null},"y2":{"datum":1}}},
  {"mark":{"type":"text","fontSize":14.5,"color":"#1A1A1A"},"encoding":{"text":{"field":"t"}}}
 ]},
{"data":{"name":"models"},"width":78,"height":396,
 "encoding":{"y":{"field":"m","type":"nominal","scale":{"paddingInner":0.0896,"paddingOuter":0},"axis":null}},
 "layer":[
  {"mark":{"type":"rect","fill":"#D9D9D9"},"encoding":{"x":{"datum":0,"type":"quantitative","scale":{"domain":[0,1]},"axis":null},"x2":{"datum":1}}},
  {"mark":{"type":"text","fontSize":14.5,"color":"#1A1A1A"},"encoding":{"text":{"field":"m"}}}
 ]},
{"data":{"name":"weak"},
 "transform":[{"fold":["70","80","90","100"],"as":["p","s"]}],
 "facet":{
  "row":{"field":"m","type":"nominal","header":{"labels":false,"title":null}},
  "column":{"field":"t","type":"nominal","header":{"labels":false,"title":"Hypothesized Values of p0","titleOrient":"bottom","titleFontSize":19.5,"titleFontWeight":"normal","titleColor":"#000","titlePadding":-3}}},
 "spacing":{"row":6,"column":6},
 "spec":{"width":107,"height":61,"view":{"fill":"#EBEBEB","stroke":null},
  "mark":{"type":"rect","stroke":"#000","strokeWidth":0.5,"strokeOpacity":0.7},
  "encoding":{
   "x":{"field":"p","type":"ordinal","title":null,"scale":{"domain":["70","80","90","100"],"paddingInner":0,"paddingOuter":0.2},
     "axis":{"labelExpr":"format(toNumber(datum.value)/100,'.1f')","labelAngle":-45,"labelAlign":"right","labelBaseline":"top","labelFontSize":15.5,"labelColor":"#4D4D4D","tickColor":"#333","tickSize":3,"domain":false,"grid":false}},
   "y":{"field":"b","type":"ordinal","sort":"descending","title":null,"scale":{"paddingInner":0,"paddingOuter":0.08},
     "axis":{"labelExpr":"'Base Prompt ' + datum.value","labelFontSize":15,"labelColor":"#4D4D4D","tickColor":"#333","tickSize":3,"domain":false,"grid":false,"labelPadding":3}},
   "color":{"field":"s","type":"nominal","scale":{"domain":["P","I"],"range":["#0000FF","#FF0000"]},
     "legend":{"orient":"none","legendX":197,"legendY":497,"direction":"horizontal","title":"Significance","titleOrient":"left","titleFontSize":19.5,"titleFontWeight":"normal","titleColor":"#000","titlePadding":4,"labelFontSize":15.5,"labelColor":"#000","labelOffset":5,"columnPadding":6,"symbolType":"square","symbolSize":330,"symbolStrokeWidth":0,"labelExpr":"datum.label == 'P' ? 'Plausible p0 value' : 'Implausible p0 value'"}}
  }}}
]},
{
"columns":2,"align":"each","spacing":{"row":2,"column":3},
"concat":[
{"data":{"values":[]},"mark":"point","width":1,"height":1},
{"data":{"name":"topics"},"width":446,"height":22,
 "title":{"text":"Strong Test for Logical Consistency","anchor":"start","frame":"group","fontSize":23.5,"fontWeight":"normal","color":"#000","offset":5},
 "encoding":{"x":{"field":"t","type":"nominal","scale":{"paddingInner":0.0531,"paddingOuter":0},"axis":null}},
 "layer":[
  {"mark":{"type":"rect","fill":"#D9D9D9"},"encoding":{"y":{"datum":0,"type":"quantitative","scale":{"domain":[0,1]},"axis":null},"y2":{"datum":1}}},
  {"mark":{"type":"text","fontSize":14.5,"color":"#1A1A1A"},"encoding":{"text":{"field":"t"}}}
 ]},
{"data":{"name":"models"},"width":78,"height":396,
 "encoding":{"y":{"field":"m","type":"nominal","scale":{"paddingInner":0.0896,"paddingOuter":0},"axis":null}},
 "layer":[
  {"mark":{"type":"rect","fill":"#D9D9D9"},"encoding":{"x":{"datum":0,"type":"quantitative","scale":{"domain":[0,1]},"axis":null},"x2":{"datum":1}}},
  {"mark":{"type":"text","fontSize":14.5,"color":"#1A1A1A"},"encoding":{"text":{"field":"m"}}}
 ]},
{"data":{"name":"strong"},
 "transform":[{"fold":["0","5","10","15","20","25","30","35","40","45","50","55","60","65","70","75","80","85","90","95","100"],"as":["q","s"]}],
 "facet":{
  "row":{"field":"m","type":"nominal","header":{"labels":false,"title":null}},
  "column":{"field":"t","type":"nominal","header":{"labels":false,"title":"Hypothesized Values of q0","titleOrient":"bottom","titleFontSize":19.5,"titleFontWeight":"normal","titleColor":"#000","titlePadding":-10}}},
 "spacing":{"row":6,"column":6},
 "spec":{"width":107,"height":61,"view":{"fill":"#EBEBEB","stroke":null},
  "mark":{"type":"rect","stroke":"#000","strokeWidth":0.5,"strokeOpacity":0.7},
  "encoding":{
   "x":{"field":"q","type":"ordinal","title":null,"scale":{"domain":["0","5","10","15","20","25","30","35","40","45","50","55","60","65","70","75","80","85","90","95","100"],"paddingInner":0,"paddingOuter":1.05},
     "axis":{"values":["0","25","50","75","100"],"labelExpr":"format(toNumber(datum.value)/100,'.2f')","labelAngle":-45,"labelAlign":"right","labelBaseline":"top","labelFontSize":15,"labelColor":"#4D4D4D","tickColor":"#333","tickSize":3,"domain":false,"grid":false}},
   "y":{"field":"b","type":"ordinal","sort":"descending","title":null,"scale":{"paddingInner":0,"paddingOuter":0.08},
     "axis":{"labelExpr":"'Base Prompt ' + datum.value","labelFontSize":15,"labelColor":"#4D4D4D","tickColor":"#333","tickSize":3,"domain":false,"grid":false,"labelPadding":3}},
   "color":{"field":"s","type":"nominal","scale":{"domain":["I","P"],"range":["#FF0000","#0000FF"]},
     "legend":{"orient":"none","legendX":196,"legendY":497,"direction":"horizontal","title":"Significance","titleOrient":"left","titleFontSize":19.5,"titleFontWeight":"normal","titleColor":"#000","titlePadding":4,"labelFontSize":15.5,"labelColor":"#000","labelOffset":5,"columnPadding":6,"symbolType":"square","symbolSize":330,"symbolStrokeWidth":0,"labelExpr":"datum.label == 'P' ? 'Plausible q0 value' : 'Implausible q0 value'"}}
  }}}
]}
]
}
